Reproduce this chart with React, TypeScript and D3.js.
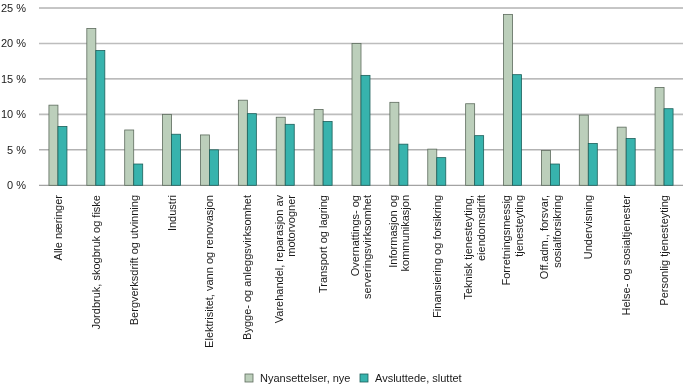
import React, { useEffect, useRef } from "react";
import { select, scaleBand, scaleLinear, axisLeft } from "d3";

// categories, each label split into its lines
const categories = [
  ["Alle næringer"],
  ["Jordbruk, skogbruk og fiske"],
  ["Bergverksdrift og utvinning"],
  ["Industri"],
  ["Elektrisitet, vann og renovasjon"],
  ["Bygge- og anleggsvirksomhet"],
  ["Varehandel, reparasjon av", "motorvogner"],
  ["Transport og lagring"],
  ["Overnattings- og", "serveringsvirksomhet"],
  ["Informasjon og", "kommunikasjon"],
  ["Finansiering og forsikring"],
  ["Teknisk tjenesteyting,", "eiendomsdrift"],
  ["Forretningsmessig", "tjenesteyting"],
  ["Off.adm., forsvar,", "sosialforsikring"],
  ["Undervisning"],
  ["Helse- og sosialtjenester"],
  ["Personlig tjenesteyting"],
];

const seriesNames = ["Nyansettelser, nye", "Avsluttede, sluttet"];
const nyansettelser = [11.3, 22.1, 7.8, 10.0, 7.1, 12.0, 9.6, 10.7, 20.0, 11.7, 5.1, 11.5, 24.1, 4.9, 9.9, 8.2, 13.8];
const avsluttede = [8.3, 19.0, 3.0, 7.2, 5.0, 10.1, 8.6, 9.0, 15.5, 5.8, 3.9, 7.0, 15.6, 3.0, 5.9, 6.6, 10.8];
const yTicks = [0, 5, 10, 15, 20, 25];

const fills = ["#bccfbb", "#37b3ad"];
const strokes = ["#5d6b5d", "#1d5f5a"];

function App() {
  const svgRef = useRef(null);

  useEffect(() => {
    const svg = select(svgRef.current);
    svg.selectAll("*").remove();
    const font = "'Liberation Sans', Arial, sans-serif";

    const left = 39, right = 683, top = 8, bottom = 185.3;

    const x = scaleBand().domain(categories.map((c, i) => String(i))).range([left, right]);
    const inner = scaleBand().domain(["0", "1"]).range([0, 18]);
    const y = scaleLinear().domain([0, 25]).range([bottom, top]);

    // gridlines, 10 and 20 are lighter and thicker
    svg
      .append("g")
      .selectAll("line")
      .data(yTicks)
      .join("line")
      .attr("x1", left)
      .attr("x2", right)
      .attr("y1", d => y(d))
      .attr("y2", d => y(d))
      .attr("stroke", d => (d % 10 === 0 && d > 0 ? "#bdbdbd" : "#6e6e6e"))
      .attr("stroke-width", d => (d % 10 === 0 && d > 0 ? 1.6 : 0.8));

    // y axis labels
    const yAxis = axisLeft(y).tickValues(yTicks).tickSize(0).tickPadding(0).tickFormat(d => `${d} %`);
    const yg = svg.append("g").attr("transform", `translate(26,0)`).call(yAxis);
    yg.select(".domain").remove();
    yg.selectAll("text").attr("font-family", font).attr("font-size", 11).attr("fill", "#1a1a1a");

    // bars
    const series = [nyansettelser, avsluttede];
    const groups = svg
      .append("g")
      .selectAll("g")
      .data(categories.map((c, i) => i))
      .join("g")
      .attr("transform", i => `translate(${x(String(i)) + (x.bandwidth() - 18) / 2},0)`);

    groups
      .selectAll("rect")
      .data(i => series.map((s, k) => ({ k, v: s[i] })))
      .join("rect")
      .attr("x", d => inner(String(d.k)))
      .attr("width", inner.bandwidth())
      .attr("y", d => y(d.v))
      .attr("height", d => y(0) - y(d.v))
      .attr("fill", d => fills[d.k])
      .attr("stroke", d => strokes[d.k])
      .attr("stroke-width", 0.8);

    // x labels, rotated
    const labels = svg
      .append("g")
      .selectAll("text")
      .data(categories.map((c, i) => ({ c, i })))
      .join("text")
      .attr("transform", d => `translate(${x(String(d.i)) + x.bandwidth() / 2},195) rotate(-90)`)
      .attr("text-anchor", "end")
      .attr("font-family", font)
      .attr("font-size", 11)
      .attr("fill", "#1a1a1a");
    labels
      .selectAll("tspan")
      .data(d => d.c.map((line, j) => ({ line, j, n: d.c.length })))
      .join("tspan")
      .attr("x", 0)
      .attr("y", d => (d.j - (d.n - 1) / 2) * 12.5 + 4)
      .text(d => d.line);

    // legend
    const legend = svg
      .append("g")
      .selectAll("g")
      .data(seriesNames.map((name, k) => ({ name, k })))
      .join("g")
      .attr("transform", d => `translate(${d.k === 0 ? 245 : 360},374)`);
    legend
      .append("rect")
      .attr("width", 8)
      .attr("height", 8)
      .attr("fill", d => fills[d.k])
      .attr("stroke", d => strokes[d.k])
      .attr("stroke-width", 0.8);
    legend
      .append("text")
      .attr("x", 15)
      .attr("y", 8)
      .attr("font-family", font)
      .attr("font-size", 11)
      .attr("fill", "#1a1a1a")
      .text(d => d.name);
  }, []);

  return (
    <div style={{ position: "fixed", left: 0, top: 0 }}>
      <svg ref={svgRef} width={683} height={384} style={{ display: "block" }} />
    </div>
  );
}

export default App;
